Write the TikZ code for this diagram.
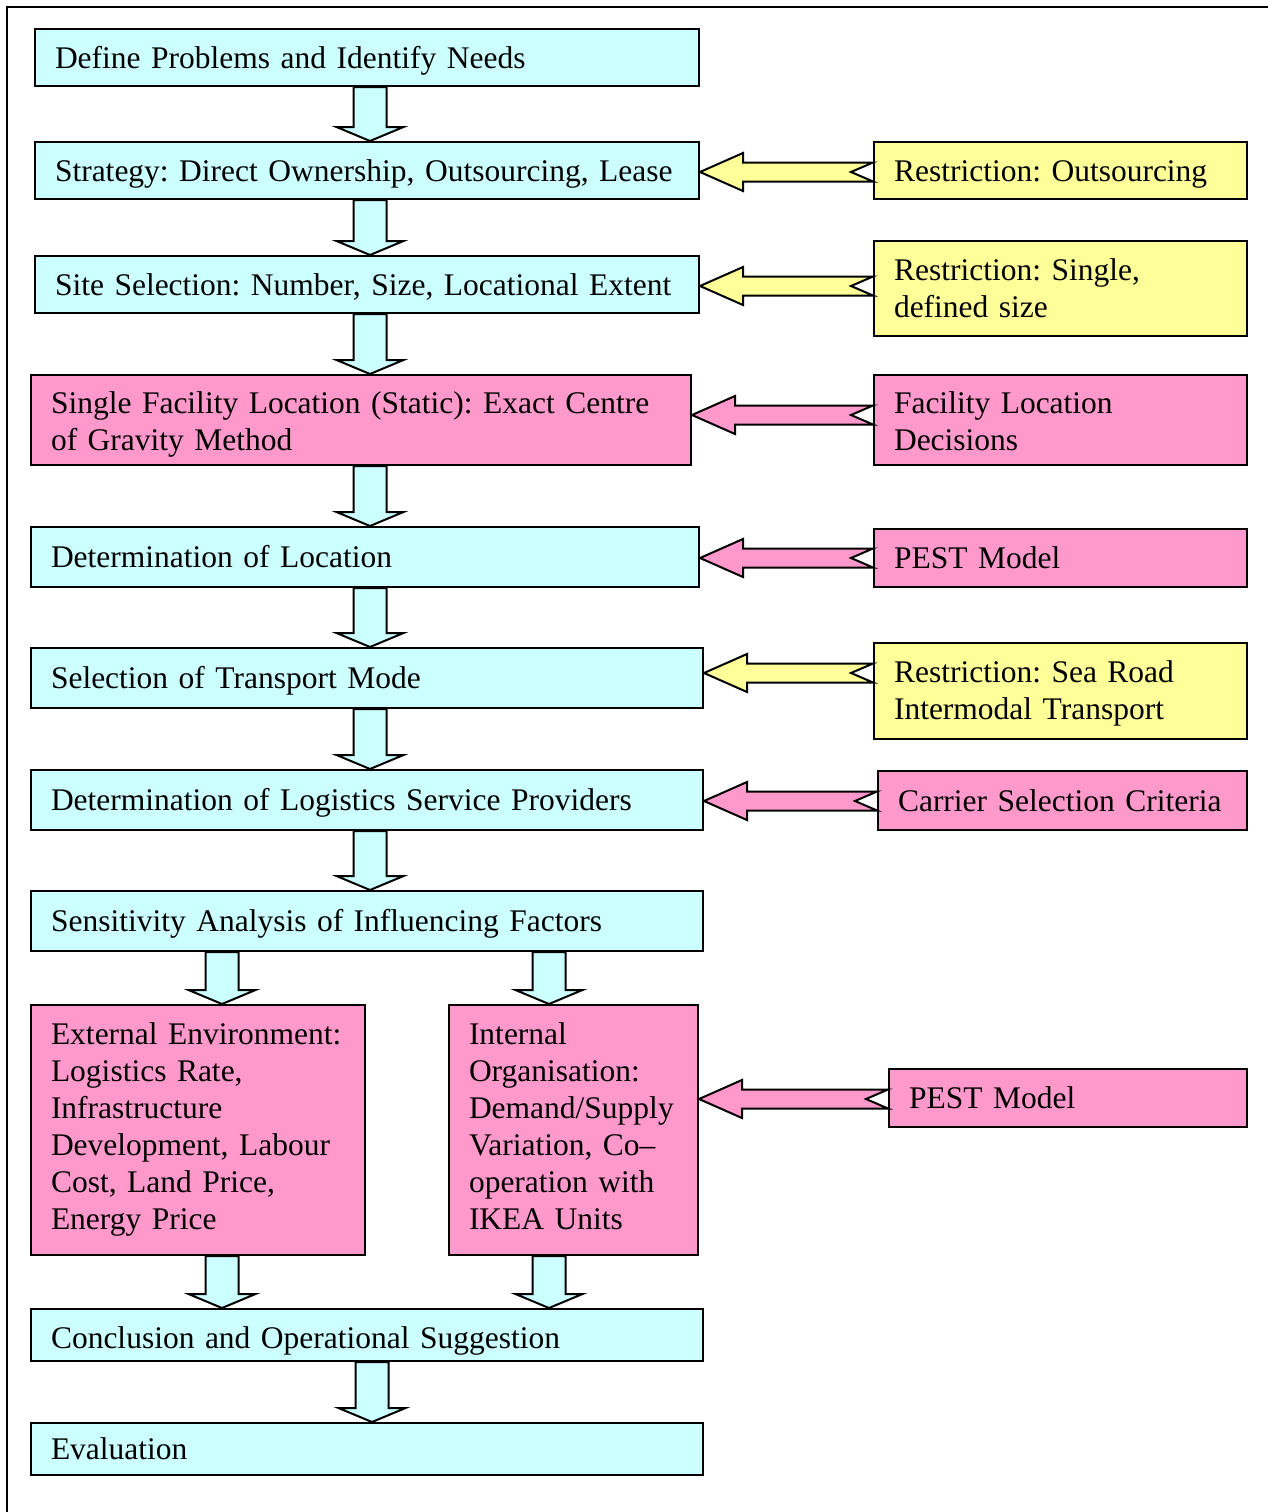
\documentclass[tikz,border=0pt]{standalone}
\usepackage{fontspec}
\setmainfont{Liberation Serif}
\usetikzlibrary{calc}

\definecolor{cyanfill}{HTML}{CCFFFF}
\definecolor{yellowfill}{HTML}{FFFF99}
\definecolor{pinkfill}{HTML}{FF99CC}

\tikzset{
  flowbox/.style={draw=black, line width=2pt, anchor=north west,
    inner xsep=20pt, inner ysep=0pt, align=left,
    font=\fontsize{31.5}{37}\selectfont\frenchspacing},
  blockarrow/.style={draw=black, line width=2pt, line join=miter},
}

% box: [text drop], name, left, top, right, bottom, fill, text (lines split by \\)
\newcommand\flowbox[8][3.5]{%
  \pgfmathsetmacro\fbw{#5-#3}%
  \pgfmathsetmacro\fbh{#6-#4}%
  \pgfmathsetmacro\fbt{#5-#3-40}%
  \node[flowbox, fill=#7, minimum width=\fbw pt, minimum height=\fbh pt,
        text width=\fbt pt] (#2) at (#3,-#4)
        {\raisebox{-#1pt}[\height][\depth]{\begin{tabular}{@{}l@{}}#8\end{tabular}}};%
}

% hollow block arrow pointing down: from, to, centre x
\newcommand\dnarrow[3]{%
  \draw[blockarrow, fill=cyanfill] let \p1=(#1.south), \p2=(#2.north) in
    (#3pt-16.5pt,\y1) -- (#3pt+16.5pt,\y1) -- (#3pt+16.5pt,\y2+14pt)
    -- (#3pt+33.5pt,\y2+14pt) -- (#3pt,\y2) -- (#3pt-33.5pt,\y2+14pt)
    -- (#3pt-16.5pt,\y2+14pt) -- cycle;%
}

% notched block arrow pointing left: from, to, centre y, fill
\newcommand\lfarrow[4]{%
  \draw[blockarrow, fill=#4] let \p1=(#1.west), \p2=(#2.east) in
    (\x2,-#3pt) -- (\x2+43pt,-#3pt+19pt) -- (\x2+43pt,-#3pt+9.5pt)
    -- (\x1,-#3pt+9.5pt) -- (\x1-22pt,-#3pt) -- (\x1,-#3pt-9.5pt)
    -- (\x2+43pt,-#3pt-9.5pt) -- (\x2+43pt,-#3pt-19pt) -- cycle;%
}

\begin{document}
\begin{tikzpicture}[x=1pt, y=1pt]
\useasboundingbox (0,0) rectangle (1268,-1512);

% frame
\draw[line width=2pt] (7,-1512) -- (7,-7) -- (1268,-7);

% main column
\flowbox{define}{34}{28}{698}{85}{cyanfill}{Define Problems and Identify Needs}
\flowbox{strategy}{34}{141}{698}{198}{cyanfill}{Strategy: Direct Ownership, Outsourcing, Lease}
\flowbox{site}{34}{255}{698}{312}{cyanfill}{Site Selection: Number, Size, Locational Extent}
\flowbox[4.5]{single}{30}{374}{690}{464}{pinkfill}{Single Facility Location (Static): Exact Centre\\of Gravity Method}
\flowbox{location}{30}{526}{698}{586}{cyanfill}{Determination of Location}
\flowbox{transport}{30}{647}{702}{707}{cyanfill}{Selection of Transport Mode}
\flowbox{providers}{30}{769}{702}{829}{cyanfill}{Determination of Logistics Service Providers}
\flowbox{sensitivity}{30}{890}{702}{950}{cyanfill}{Sensitivity Analysis of Influencing Factors}
\flowbox[0]{external}{30}{1004}{364}{1254}{pinkfill}{External Environment:\\Logistics Rate,\\Infrastructure\\Development, Labour\\Cost, Land Price,\\Energy Price}
\flowbox[0]{internal}{448}{1004}{697}{1254}{pinkfill}{Internal\\Organisation:\\Demand/Supply\\Variation, Co--\\operation with\\IKEA Units}
\flowbox[6]{conclusion}{30}{1308}{702}{1360}{cyanfill}{Conclusion and Operational Suggestion}
\flowbox{evaluation}{30}{1422}{702}{1474}{cyanfill}{Evaluation}

% side inputs
\flowbox{rOut}{873}{141}{1246}{198}{yellowfill}{Restriction: Outsourcing}
\flowbox[3]{rSingle}{873}{240}{1246}{335}{yellowfill}{Restriction: Single,\\defined size}
\flowbox[5]{facDec}{873}{374}{1246}{464}{pinkfill}{Facility Location\\Decisions}
\flowbox{pestA}{873}{528}{1246}{586}{pinkfill}{PEST Model}
\flowbox[3]{rSea}{873}{642}{1246}{738}{yellowfill}{Restriction: Sea Road\\Intermodal Transport}
\flowbox{carrier}{877}{770}{1246}{829}{pinkfill}{Carrier Selection Criteria}
\flowbox{pestB}{888}{1068}{1246}{1126}{pinkfill}{PEST Model}

% downward flow
\dnarrow{define}{strategy}{370}
\dnarrow{strategy}{site}{370}
\dnarrow{site}{single}{370}
\dnarrow{single}{location}{370}
\dnarrow{location}{transport}{370}
\dnarrow{transport}{providers}{370}
\dnarrow{providers}{sensitivity}{370}
\dnarrow{sensitivity}{external}{222}
\dnarrow{sensitivity}{internal}{549}
\dnarrow{external}{conclusion}{222}
\dnarrow{internal}{conclusion}{549}
\dnarrow{conclusion}{evaluation}{372}

% side arrows
\lfarrow{rOut}{strategy}{172}{yellowfill}
\lfarrow{rSingle}{site}{286}{yellowfill}
\lfarrow{facDec}{single}{415}{pinkfill}
\lfarrow{pestA}{location}{558}{pinkfill}
\lfarrow{rSea}{transport}{673}{yellowfill}
\lfarrow{carrier}{providers}{801}{pinkfill}
\lfarrow{pestB}{internal}{1099}{pinkfill}
\end{tikzpicture}
\end{document}
